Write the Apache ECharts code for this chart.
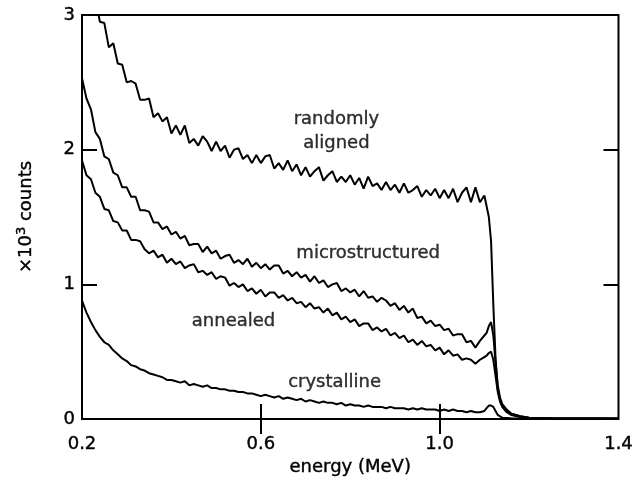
<!DOCTYPE html>
<html>
<head>
<meta charset="utf-8">
<script src="https://cdn.jsdelivr.net/npm/echarts@6/dist/echarts.min.js"></script>
<style>html,body{margin:0;padding:0;background:#fff;}#c{width:636px;height:483px;}</style>
</head>
<body>
<div id="c"></div>
<script>
// energy (MeV)
const energy = [
0.20,0.21,0.22,0.23,0.24,0.25,0.26,0.27,0.28,0.29,
0.30,0.31,0.32,0.33,0.34,0.35,0.36,0.37,0.38,0.39,
0.40,0.41,0.42,0.43,0.44,0.45,0.46,0.47,0.48,0.49,
0.50,0.51,0.52,0.53,0.54,0.55,0.56,0.57,0.58,0.59,
0.60,0.61,0.62,0.63,0.64,0.65,0.66,0.67,0.68,0.69,
0.70,0.71,0.72,0.73,0.74,0.75,0.76,0.77,0.78,0.79,
0.80,0.81,0.82,0.83,0.84,0.85,0.86,0.87,0.88,0.89,
0.90,0.91,0.92,0.93,0.94,0.95,0.96,0.97,0.98,0.99,
1.00,1.01,1.02,1.03,1.04,1.05,1.06,1.07,1.08,1.09,
1.10,1.105,1.11,1.115,1.12,1.125,1.13,1.135,1.14,
1.15,1.16,1.18,1.20,1.25,1.30,1.35,1.40];

// counts (x10^3)
const randomlyAligned = [
3.40,3.31,3.15,3.12,2.95,2.94,2.76,2.79,2.64,2.63,
2.50,2.51,2.49,2.37,2.37,2.38,2.24,2.27,2.21,2.24,
2.12,2.18,2.11,2.18,2.05,2.08,2.03,2.10,2.06,1.99,
2.06,1.99,2.03,1.94,2.00,2.01,1.93,1.96,1.90,1.96,
1.90,1.95,1.96,1.86,1.90,1.85,1.92,1.84,1.89,1.81,
1.87,1.80,1.84,1.87,1.77,1.81,1.84,1.76,1.80,1.76,
1.81,1.74,1.79,1.71,1.80,1.73,1.75,1.70,1.76,1.70,
1.74,1.68,1.75,1.68,1.70,1.73,1.65,1.70,1.66,1.71,
1.64,1.70,1.64,1.71,1.61,1.68,1.72,1.61,1.72,1.61,
1.66,1.58,1.50,1.32,0.85,0.45,0.22,0.14,0.10,
0.06,0.04,0.02,0.01,0.005,0.004,0.003,0.003];

const microstructured = [
2.53,2.38,2.30,2.13,2.08,1.95,1.93,1.83,1.81,1.72,
1.72,1.65,1.65,1.55,1.55,1.54,1.46,1.46,1.41,1.43,
1.37,1.39,1.34,1.36,1.29,1.30,1.30,1.24,1.28,1.23,
1.25,1.19,1.21,1.22,1.16,1.18,1.15,1.19,1.13,1.16,
1.12,1.15,1.11,1.14,1.14,1.08,1.10,1.06,1.09,1.05,
1.07,1.02,1.06,1.01,1.03,0.98,1.00,1.01,0.95,0.97,
0.94,0.96,0.91,0.95,0.90,0.91,0.87,0.90,0.88,0.84,
0.86,0.81,0.84,0.79,0.82,0.75,0.76,0.71,0.73,0.69,
0.70,0.66,0.67,0.62,0.63,0.63,0.57,0.58,0.53,0.58,
0.62,0.64,0.69,0.72,0.62,0.42,0.25,0.16,0.11,
0.07,0.04,0.02,0.01,0.005,0.004,0.003,0.003];

const annealed = [
1.92,1.81,1.78,1.68,1.65,1.56,1.55,1.47,1.46,1.40,
1.40,1.33,1.33,1.32,1.26,1.23,1.25,1.20,1.22,1.16,
1.19,1.15,1.17,1.12,1.14,1.15,1.09,1.10,1.07,1.09,
1.04,1.06,1.05,0.99,1.01,0.98,1.00,0.95,0.97,0.93,
0.96,0.91,0.94,0.94,0.90,0.92,0.88,0.90,0.86,0.87,
0.83,0.86,0.82,0.83,0.79,0.82,0.77,0.79,0.74,0.76,
0.72,0.74,0.69,0.71,0.71,0.66,0.68,0.65,0.67,0.62,
0.64,0.60,0.62,0.57,0.59,0.55,0.58,0.54,0.55,0.51,
0.53,0.48,0.51,0.47,0.48,0.44,0.45,0.44,0.41,0.44,
0.46,0.47,0.49,0.50,0.44,0.32,0.20,0.13,0.09,
0.05,0.03,0.015,0.008,0.004,0.003,0.003,0.002];

const crystalline = [
0.88,0.79,0.72,0.66,0.61,0.57,0.55,0.51,0.48,0.45,
0.43,0.40,0.39,0.37,0.36,0.34,0.33,0.32,0.31,0.29,
0.29,0.28,0.27,0.28,0.25,0.26,0.25,0.24,0.25,0.23,
0.23,0.22,0.22,0.21,0.21,0.20,0.20,0.19,0.19,0.18,
0.17,0.18,0.17,0.16,0.17,0.15,0.16,0.15,0.14,0.15,
0.13,0.14,0.13,0.12,0.13,0.12,0.12,0.11,0.12,0.10,
0.11,0.10,0.10,0.09,0.10,0.09,0.09,0.09,0.08,0.09,
0.08,0.08,0.08,0.07,0.08,0.07,0.08,0.07,0.07,0.07,
0.06,0.07,0.06,0.07,0.06,0.06,0.05,0.06,0.05,0.05,
0.06,0.08,0.10,0.10,0.09,0.06,0.03,0.02,0.01,
0.008,0.005,0.003,0.002,0.002,0.002,0.002,0.002];

// curve annotations: [energy, counts, text]
const curveLabels = [
  [0.769, 2.138, 'randomly\naligned'],
  [0.840, 1.232, 'microstructured'],
  [0.539, 0.728, 'annealed'],
  [0.765, 0.275, 'crystalline']
];

const xLabelTicks = [0.2, 0.6, 1.0, 1.4];
const xInnerTicks = [0.6, 1.0];
const yInnerTicks = [1, 2];

const FONT = 'DejaVu Sans';
const TXT = {fontSize: 18, fontFamily: FONT, color: '#000', textBorderColor: '#000', textBorderWidth: 0.4};
const zip = arr => energy.map((e, i) => [e, arr[i]]);

const chart = echarts.init(document.getElementById('c'), null, {renderer: 'canvas'});
const lineSeries = (name, arr) => ({
  name, type: 'line', data: zip(arr), showSymbol: false, symbol: 'none',
  lineStyle: {color: '#000', width: 2}, clip: true, animation: false,
  xAxisIndex: 0, yAxisIndex: 0
});
const tickStyle = {show: true, inside: true, length: 15, lineStyle: {color: '#000', width: 2}};
chart.setOption({
  animation: false,
  backgroundColor: '#fff',
  textStyle: {fontFamily: FONT, color: '#000'},
  grid: {left: 82, right: 16, top: 15, bottom: 64, show: true, borderColor: '#000', borderWidth: 2, backgroundColor: 'transparent'},
  xAxis: [{
    type: 'value', min: 0.2, max: 1.4, position: 'bottom',
    name: 'energy (MeV)', nameLocation: 'middle', nameGap: 39,
    nameTextStyle: TXT,
    axisLine: {show: false}, splitLine: {show: false},
    axisTick: Object.assign({customValues: xInnerTicks}, tickStyle),
    axisLabel: Object.assign({show: true, customValues: xLabelTicks, margin: 16, formatter: v => v.toFixed(1)}, TXT)
  }, {
    type: 'value', min: 0.2, max: 1.4, position: 'top',
    axisLine: {show: false}, splitLine: {show: false},
    axisTick: Object.assign({customValues: xInnerTicks}, tickStyle),
    axisLabel: {show: false}
  }],
  yAxis: [{
    type: 'value', min: 0, max: 3, interval: 1, position: 'left',
    name: '{a|×10}{s|3}{a| counts}', nameLocation: 'middle', nameGap: 44, nameRotate: 90,
    nameTextStyle: Object.assign({}, TXT, {
      rich: {a: TXT, s: Object.assign({}, TXT, {fontSize: 13, verticalAlign: 'top', padding: [0, 0, 10, 0]})}}),
    axisLine: {show: false}, splitLine: {show: false},
    axisTick: Object.assign({customValues: yInnerTicks}, tickStyle),
    axisLabel: Object.assign({margin: 7}, TXT)
  }, {
    type: 'value', min: 0, max: 3, interval: 1, position: 'right',
    axisLine: {show: false}, splitLine: {show: false},
    axisTick: Object.assign({customValues: yInnerTicks}, tickStyle),
    axisLabel: {show: false}
  }],
  series: [
    lineSeries('randomly aligned', randomlyAligned),
    lineSeries('microstructured', microstructured),
    lineSeries('annealed', annealed),
    lineSeries('crystalline', crystalline),
    {
      type: 'scatter', symbolSize: 0, silent: true, animation: false,
      data: curveLabels.map(d => ({value: [d[0], d[1]], name: d[2]})),
      label: Object.assign({show: true, position: 'inside', formatter: p => p.name, lineHeight: 24,
        align: 'center', verticalAlign: 'middle'}, TXT)
    }
  ]
});
</script>
</body>
</html>
